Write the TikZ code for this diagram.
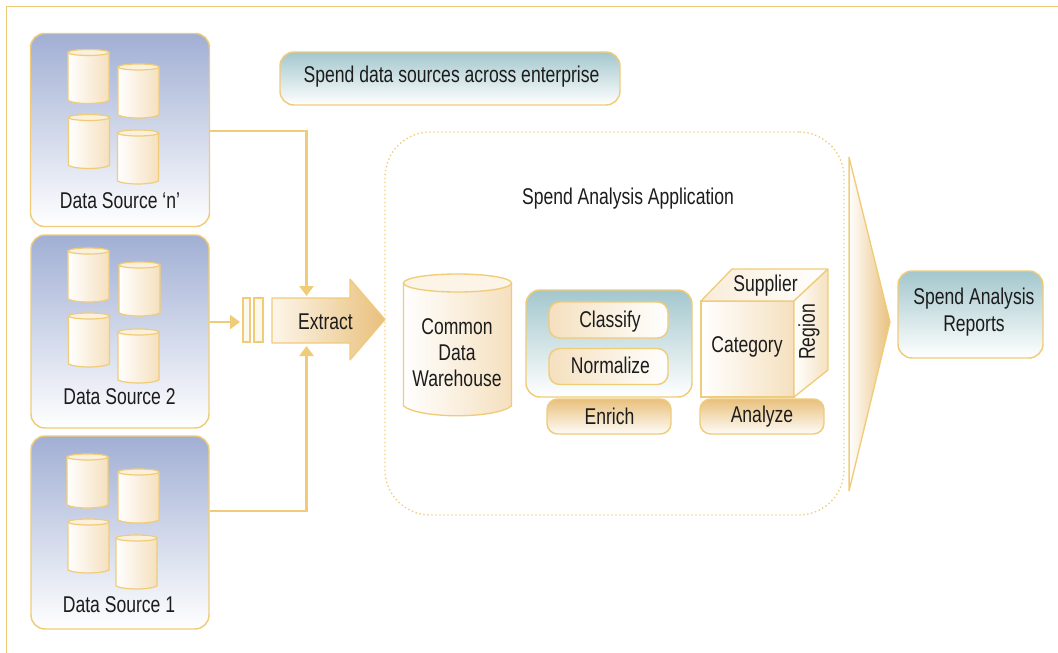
\documentclass[tikz,border=0pt]{standalone}
\usepackage{fontspec}
\setmainfont[FakeStretch=0.77]{Liberation Sans}
\usetikzlibrary{arrows.meta,calc}
\definecolor{gold}{HTML}{F0CC78}
\definecolor{tan}{HTML}{E9C07C}
\definecolor{sand}{HTML}{F5E0BE}
\definecolor{cream}{HTML}{FBF0DC}
\definecolor{slate}{HTML}{A1AFD4}
\definecolor{teal2}{HTML}{A3C7CD}
\definecolor{ink}{HTML}{1C1C1C}
\tikzset{
  wh/.style 2 args={minimum width=#1*.75pt,minimum height=#2*.75pt,inner sep=0pt},
  edge/.style={draw=gold,line width=1.1pt},
  srcbox/.style={edge,rounded corners=10.5pt,top color=slate,bottom color=white},
  tealbox/.style={edge,rounded corners=10.5pt,top color=teal2,bottom color=white},
  pill/.style={edge,rounded corners=8pt,left color=sand,right color=white},
  btn/.style={edge,rounded corners=8pt,top color=tan,bottom color=white!90!sand},
  lbl/.style={text=ink,font=\fontsize{17.1}{19.4}\selectfont,align=center,inner sep=0pt},
  link/.style={draw=gold,line width=2.2pt},
  linkhead/.style={-{Triangle[length=7.5pt,width=10.5pt,fill=gold]}},
  drum/.style={draw=gold,line width=.9pt,left color=white,right color=sand},
  drumtop/.style={draw=gold,line width=.9pt,fill=cream},
}
\newcommand{\drumat}[4][3]{%
  \path[drum] (#2,#3+#1) -- (#2,#3+54-#1)
     .. controls (#2+8,#3+54+.33*#1) and (#2+33,#3+54+.33*#1) .. (#2+41,#3+54-#1)
     -- (#2+41,#3+#1) -- cycle;
  \path[drumtop] (#2+20.5,#3+#1) ellipse [x radius=20.5,y radius=#1];
}
\begin{document}
\begin{tikzpicture}[x=.75pt,y=-.75pt]
\useasboundingbox (0,0) rectangle (1058,653);
\fill[white] (0,0) rectangle (1058,653);
% frame
\draw[draw=gold,line width=.9pt] (6.5,653) -- (6.5,6.5) -- (1058,6.5);

% sources
\node[srcbox,wh={179}{193}] (srcN) at (120,130) {};
\node[srcbox,wh={178}{193}] (srcTwo) at (120,331.5) {};
\node[srcbox,wh={178}{193}] (srcOne) at (120,532.5) {};
\foreach \a/\b in {68/49.5,118/64,68.5/114.5,117.5/130,
                   68/248,119/262,68.5/313,118/329,
                   67/454,118/469,68/519,116/535}{\drumat{\a}{\b}{}}
\node[lbl] (srcNt) at (120,200.5) {Data Source ‘n’};
\node[lbl] (srcTwot) at (119.5,397) {Data Source 2};
\node[lbl] (srcOnet) at (119,605) {Data Source 1};

% caption
\node[tealbox,wh={340}{53}] (cap) at (450,78.5) {};
\node[lbl] (capt) at (451.5,76.5) {Spend data sources across enterprise};

% application frame
\node[draw=gold,line width=1pt,dotted,rounded corners=34pt,wh={459}{383}] (app) at (614.5,323.5) {};
\node[lbl] (appt) at (628,198.5) {Spend Analysis Application};

% extract arrow
\path[draw=gold,line width=.9pt,line join=bevel,left color=cream!60!white,right color=tan]
  (272,298) -- (350,298) -- (350,279) -- (385,319.5) -- (350,360) -- (350,343) -- (272,343) -- cycle;
\node[lbl] (ext) at (325.5,322) {Extract};
\node[draw=gold,line width=.9pt,fill=white!50!cream,wh={7}{44}] (barA) at (246.5,320) {};
\node[draw=gold,line width=.9pt,fill=white!50!cream,wh={9}{44}] (barB) at (258.5,320) {};

% connectors
\coordinate (upStart) at (209,131);
\coordinate (upEnd) at (306.5,296);
\coordinate (lowEnd) at (306.5,346);
\coordinate (midEnd) at (240,322);
\coordinate (lowStart) at (209,511);
\draw[link,linkhead] (srcN.east |- upStart) -| (upEnd);
\draw[link,line width=1.8pt,linkhead] (srcTwo.east |- midEnd) -- (midEnd);
\draw[link,linkhead] (srcOne.east |- lowStart) -| (lowEnd);

% warehouse
\path[draw=gold,line width=1pt,left color=white,right color=sand]
  (403.5,283) -- (403.5,406) .. controls (420,419) and (495,419) .. (511.5,406) -- (511.5,283) -- cycle;
\path[draw=gold,line width=1pt,fill=cream!70!white] (457.5,283) ellipse [x radius=54,y radius=9];
\node[lbl] (ware) at (457,353) {Common\\Data\\Warehouse};

% enrich
\node[tealbox,wh={166}{107}] (enr) at (609,343.5) {};
\node[pill,wh={119}{36}] (cla) at (608.5,320) {};
\node[lbl] (clat) at (610,322) {Classify};
\node[pill,wh={119}{36}] (nor) at (608.5,366.5) {};
\node[lbl] (nort) at (610.5,365) {Normalize};
\node[btn,wh={124}{35}] (enb) at (609,416.5) {};
\node[lbl] (enbt) at (609.5,416) {Enrich};

% cube
\path[draw=gold,line width=1pt,left color=white,right color=sand] (701,301) rectangle (794,397);
\path[draw=gold,line width=1pt,line join=bevel,left color=sand!60!white,right color=white] (701,301) -- (732,269) -- (828,269) -- (794,301) -- cycle;
\path[draw=gold,line width=1pt,line join=bevel,left color=white,right color=sand] (794,301) -- (828,269) -- (828,370) -- (794,397) -- cycle;
\node[lbl] (cat) at (747,346.5) {Category};
\node[lbl] (sup) at (765.5,285.5) {Supplier};
\node[lbl,rotate=90] (reg) at (809,332) {Region};
\node[btn,wh={124}{35}] (anb) at (762,416.5) {};
\node[lbl] (anbt) at (762,417) {Analyze};

% funnel arrow
\path[draw=gold,line width=1pt,line join=bevel,left color=white,right color=tan] (849,157) -- (890,322) -- (849,491) -- cycle;
\draw[draw=gold,line width=1.3pt] (849.5,157) -- (849.5,491);

% reports
\node[tealbox,wh={145}{87}] (rep) at (970.5,314.5) {};
\node[lbl,font=\fontsize{17.1}{20}\selectfont] (rept) at (974,312) {Spend Analysis\\Reports};
\end{tikzpicture}
\end{document}
